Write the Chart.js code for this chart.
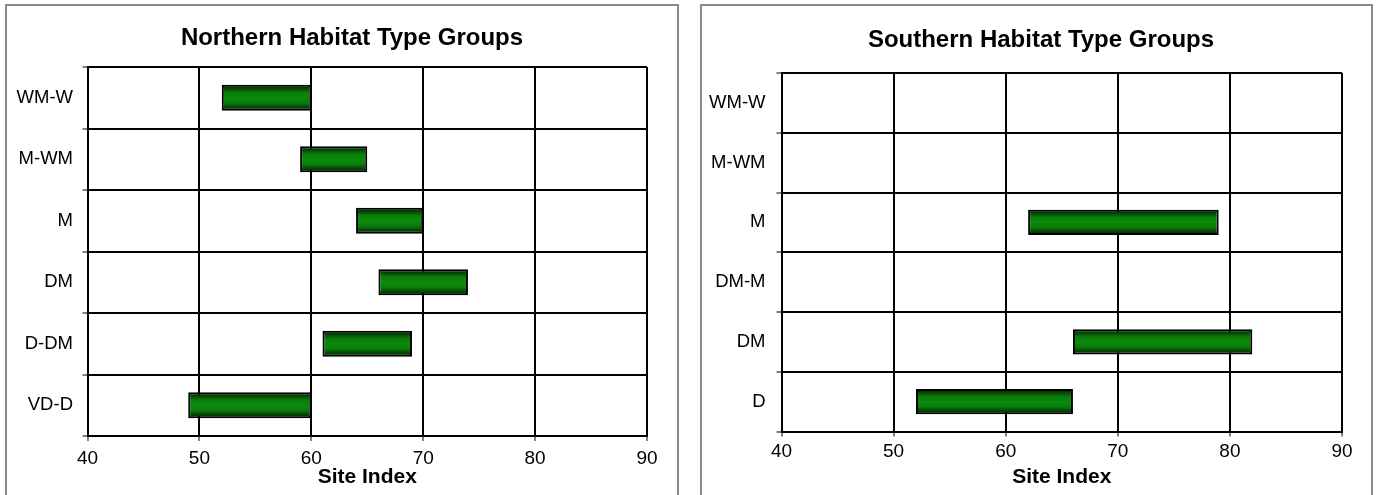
<!DOCTYPE html>
<html>
<head>
    <title>Habitat Type Groups</title>
    <script src="https://cdn.jsdelivr.net/npm/chart.js"></script>
    <style>
        body {
            margin: 0;
            background-color: #ffffff;
            font-family: "Liberation Sans", Arial, sans-serif;
        }

        .panel {
            position: absolute;
            top: 4px;
            height: 510px;
            box-sizing: border-box;
            border: 2px solid #8a8a8a;
            background-color: #ffffff;
            overflow: hidden;
        }

        .panel canvas {
            display: block;
        }
    </style>
</head>
<body>
    <div class="panel" style="left: 5px; width: 674px;">
        <canvas id="northChart" width="690" height="490"></canvas>
    </div>
    <div class="panel" style="left: 700px; width: 673px;">
        <canvas id="southChart" width="678" height="490"></canvas>
    </div>

    <script>
        // site index ranges per habitat type group (low / high end of each bar)
        var northLabels = ['WM-W', 'M-WM', 'M', 'DM', 'D-DM', 'VD-D'];
        var northLow = [52, 59, 64, 66, 61, 49];
        var northHigh = [60, 65, 70, 74, 69, 60];

        var southLabels = ['WM-W', 'M-WM', 'M', 'DM-M', 'DM', 'D'];
        var southLow = [null, null, 62, null, 66, 52];
        var southHigh = [null, null, 79, null, 82, 66];

        var siteIndexTicks = [40, 50, 60, 70, 80, 90];

        var barPct = 0.42;

        // vertical dark-bright-dark green shading on each bar
        function barFill(ctx) {
            var chart = ctx.chart;
            var yScale = chart.scales.y;
            if (!chart.chartArea || !yScale) {
                return '#0a840a';
            }
            var y = yScale.getPixelForValue(ctx.dataIndex);
            var half = Math.abs(yScale.getPixelForValue(1) - yScale.getPixelForValue(0)) * barPct / 2;
            var g = chart.ctx.createLinearGradient(0, y - half, 0, y + half);
            g.addColorStop(0, '#001400');
            g.addColorStop(0.3, '#0a7c0a');
            g.addColorStop(0.5, '#0b8b0b');
            g.addColorStop(0.7, '#0a7c0a');
            g.addColorStop(1, '#001400');
            return g;
        }

        function makeChart(id, titleText, labels, low, high, lay) {
            var ranges = low.map(function (v, i) {
                return v === null ? null : [v, high[i]];
            });

            return new Chart(document.getElementById(id).getContext('2d'), {
                type: 'bar',
                data: {
                    labels: labels,
                    datasets: [{
                        data: ranges,
                        backgroundColor: barFill,
                        borderColor: '#000000',
                        borderWidth: 2,
                        borderSkipped: false,
                        barPercentage: barPct,
                        categoryPercentage: 1
                    }]
                },
                options: {
                    indexAxis: 'y',
                    responsive: false,
                    animation: false,
                    layout: { padding: 0 },
                    plugins: {
                        legend: { display: false },
                        tooltip: { enabled: false },
                        title: {
                            display: true,
                            text: titleText,
                            color: '#000000',
                            font: { family: 'Liberation Sans', size: 24, weight: 'bold' },
                            padding: { top: lay.titleTop, bottom: lay.titleBottom }
                        }
                    },
                    scales: {
                        x: {
                            type: 'linear',
                            min: siteIndexTicks[0],
                            max: siteIndexTicks[siteIndexTicks.length - 1],
                            afterBuildTicks: function (scale) {
                                scale.ticks = siteIndexTicks.map(function (v) { return { value: v }; });
                            },
                            afterFit: function (scale) { scale.height = lay.xHeight; },
                            grid: {
                                color: '#000000',
                                lineWidth: 2,
                                tickLength: 5,
                                tickWidth: 1,
                                tickColor: '#000000'
                            },
                            border: { color: '#000000', width: 2 },
                            ticks: {
                                color: '#000000',
                                padding: lay.xPad,
                                font: { family: 'Liberation Sans', size: 19, lineHeight: 1 }
                            },
                            title: {
                                display: true,
                                text: 'Site Index',
                                color: '#000000',
                                font: { family: 'Liberation Sans', size: 21, weight: 'bold', lineHeight: 1 },
                                padding: { top: 0, bottom: 8.5 }
                            }
                        },
                        y: {
                            afterFit: function (scale) { scale.width = lay.yWidth; },
                            grid: {
                                offset: true,
                                color: '#000000',
                                lineWidth: 2,
                                tickLength: 5,
                                tickWidth: 1,
                                tickColor: '#000000'
                            },
                            border: { color: '#000000', width: 2 },
                            ticks: {
                                color: '#000000',
                                padding: lay.yPad,
                                font: { family: 'Liberation Sans', size: 18.5 }
                            }
                        },
                        // empty spacer on the right so the title sits where the original has it
                        spacer: {
                            type: 'category',
                            position: 'right',
                            afterFit: function (scale) { scale.width = lay.rightWidth; },
                            grid: { display: false },
                            border: { display: false },
                            ticks: { display: false }
                        }
                    }
                }
            });
        }

        var northChart = makeChart('northChart', 'Northern Habitat Type Groups', northLabels, northLow, northHigh, {
            yWidth: 80.5, yPad: 9.5, rightWidth: 50,
            titleTop: 18, titleBottom: 14.2,
            xHeight: 60, xPad: 8.5
        });

        var southChart = makeChart('southChart', 'Southern Habitat Type Groups', southLabels, southLow, southHigh, {
            yWidth: 79.5, yPad: 11, rightWidth: 38,
            titleTop: 19.6, titleBottom: 18.6,
            xHeight: 64.5, xPad: 6
        });
    </script>
</body>
</html>
